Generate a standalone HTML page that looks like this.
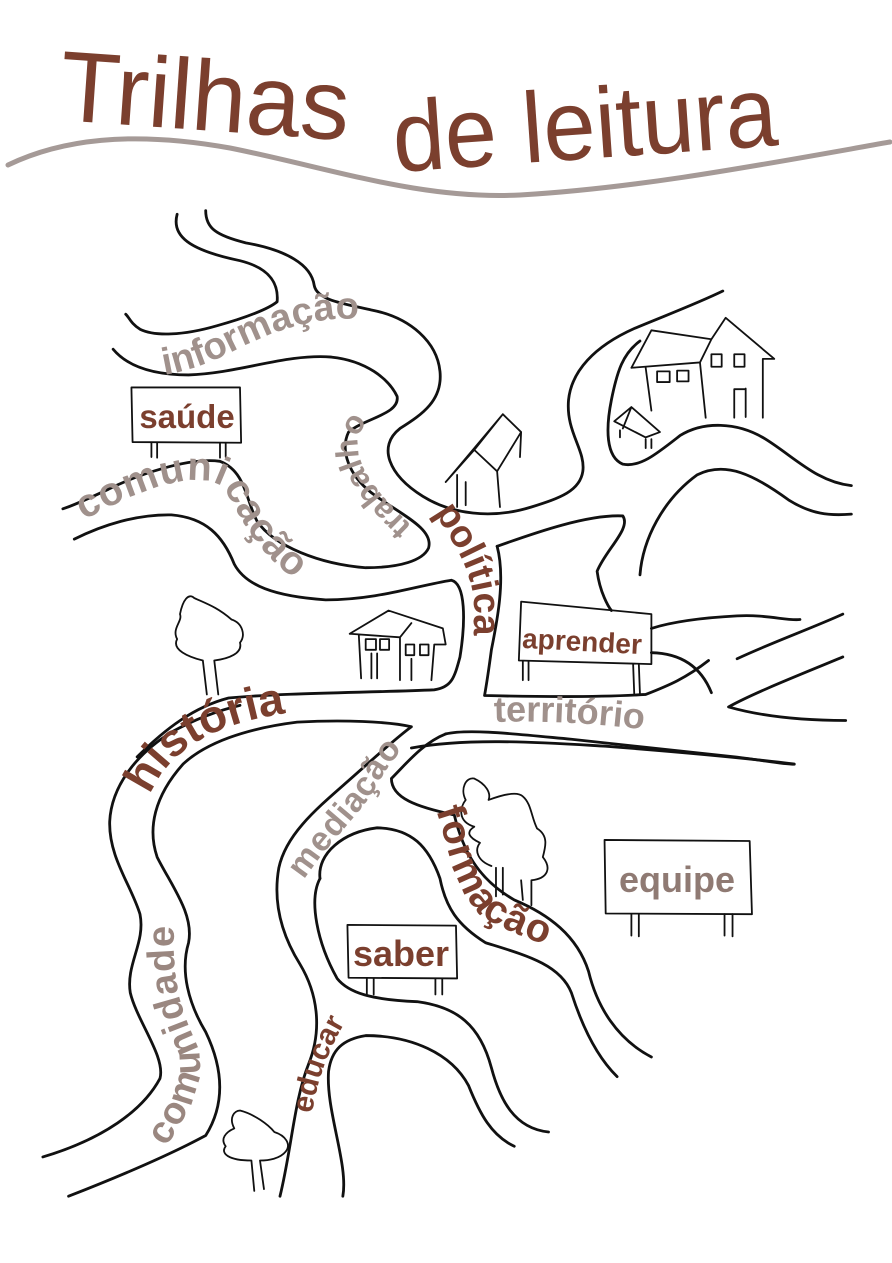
<!DOCTYPE html>
<html><head><meta charset="utf-8"><style>
html,body{margin:0;padding:0;background:#fff;width:892px;height:1263px;overflow:hidden}
svg{display:block}
.l{fill:none;stroke:#111;stroke-width:2.8;stroke-linecap:round;stroke-linejoin:round;vector-effect:non-scaling-stroke}
.t{fill:none;stroke:#111;stroke-width:1.8;stroke-linecap:round;stroke-linejoin:round;vector-effect:non-scaling-stroke}
.g{font-family:"Liberation Sans",sans-serif;font-weight:bold;fill:#a0918c}
.b{font-family:"Liberation Sans",sans-serif;font-weight:bold;fill:#7b3f2e}
</style></head><body>
<svg width="892" height="1263" viewBox="0 0 892 1263" xmlns="http://www.w3.org/2000/svg">
<path d="M8,165 C60,140 130,130 230,148 C330,168 420,200 520,195 C640,188 760,165 890,142" fill="none" stroke="#a59a97" stroke-width="5" stroke-linecap="round"/>
<text x="58" y="120" font-family="Liberation Sans,sans-serif" font-size="100" fill="#7b3f2e" textLength="290" lengthAdjust="spacingAndGlyphs" transform="rotate(4 58 120)">Trilhas</text>
<text x="395" y="172" font-family="Liberation Sans,sans-serif" font-size="100" fill="#7b3f2e" textLength="385" lengthAdjust="spacingAndGlyphs" transform="rotate(-4 395 172)">de leitura</text>

<defs>
<path id="pInfo" d="M164,375 C217,366 240,343 286,329 C320,318 349,316 390,322"/>
<path id="pTrab" d="M412,526 C385,500 355,470 358,440 C362,418 385,408 410,396"/>
<path id="pCom" d="M84,520 C130,495 190,468 222,486 C240,510 252,562 330,600"/>
<path id="pPol" d="M434,512 C455,545 472,570 474,605 L474,700"/>
<path id="pHist" d="M150,795 C170,748 220,710 360,708"/>
<path id="pTerr" d="M494,722 C560,720 620,725 700,737"/>
<path id="pMed" d="M304,880 C330,840 365,810 380,780 C395,755 410,740 428,722"/>
<path id="pForm" d="M436,810 C450,850 450,880 480,915 C510,935 550,945 600,966"/>
<path id="pEdu" d="M312,1114 C318,1075 330,1045 356,1004"/>
<path id="pComu" d="M166,1147 C190,1110 207,1080 197,1045 C182,1010 166,980 178,880"/>
</defs>

<g transform="translate(0,200) scale(0.5714,0.357)">
<path class="l" d="M310,40 C300,100 330,140 420,170 C470,190 488,230 485,285 C470,305 430,330 380,352 C320,380 270,382 245,362 C228,345 226,328 220,320"/>
<path class="l" d="M360,30 C360,80 380,100 430,120 C500,140 545,180 550,240 C555,280 600,290 650,308 C720,330 765,400 770,480 C775,560 740,600 700,640 C660,690 680,770 740,830 C790,880 860,895 930,860 C980,835 1015,815 1020,760 C1025,700 990,650 995,560 C1000,480 1040,410 1110,360 C1170,320 1220,290 1265,255"/>
<path class="l" d="M198,418 C220,460 260,490 330,490 C420,485 500,430 580,440 C640,450 680,500 695,550 C700,600 640,610 610,650 C595,700 610,770 650,820 C700,880 760,920 750,975 C740,1010 700,1030 640,1030 C560,1020 480,970 450,900 C430,840 430,760 385,732 C330,720 240,770 190,810 C150,840 120,860 110,865"/>
<path class="l" d="M130,950 C180,910 240,880 300,882 C360,890 390,940 410,1020 C430,1080 480,1110 570,1120 C660,1120 730,1080 790,1065 C815,1075 815,1180 805,1280 C795,1340 790,1365 760,1372 C650,1380 500,1380 400,1395 C340,1420 290,1480 240,1560"/>
<path class="l" d="M870,970 C940,930 1030,880 1090,885 C1105,920 1060,980 1045,1040 C1050,1100 1065,1140 1070,1150"/>
<path class="l" d="M870,970 C885,1060 870,1180 860,1260 C855,1320 850,1370 848,1388 C950,1392 1060,1392 1130,1385 C1170,1360 1200,1340 1240,1290"/>
<path class="l" d="M1120,1050 C1125,950 1160,840 1220,770 C1270,730 1320,770 1380,840 C1420,880 1450,885 1490,880"/>
<path class="l" d="M1490,800 C1430,790 1390,720 1340,670 C1290,620 1230,620 1190,660 C1150,710 1120,750 1090,740 C1060,720 1060,640 1070,560 C1080,480 1090,430 1120,395"/>
<path class="l" d="M1140,1200 C1180,1180 1230,1170 1290,1165 C1340,1160 1380,1180 1400,1175"/>
<path class="l" d="M1140,1268 C1200,1270 1230,1320 1245,1380"/>
<path class="l" d="M1290,1285 C1350,1240 1420,1200 1475,1160"/>
<path class="l" d="M1475,1280 C1400,1330 1320,1380 1275,1420 C1330,1445 1400,1458 1480,1458"/>
<path class="l" d="M720,1535 C820,1505 950,1520 1060,1530 C1180,1545 1290,1560 1390,1580"/>
<path class="t" d="M230,525 L420,525 L422,680 L232,678 Z"/>
<path class="t" d="M265,680 L265,720 M275,680 L275,722 M385,680 L385,722 M395,680 L395,720"/>
<path class="t" d="M912,1125 L1140,1160 L1140,1300 L908,1290 Z"/>
<path class="t" d="M915,1292 L915,1345 M925,1293 L925,1345 M1108,1300 L1110,1385 M1118,1300 L1120,1385"/>
<path class="t" d="M780,790 L880,600 L912,650 L870,760 L830,700 L780,790 M880,600 L830,700 M870,760 L875,860 M912,650 L910,720 M800,770 L800,860 M815,790 L815,855"/>
<path class="t" d="M1105,470 L1140,365 L1245,390 L1270,330 L1355,445 L1335,445 L1335,610 M1245,390 L1225,455 L1105,470 M1225,455 L1235,610 M1130,470 L1140,590 M1150,480 h22 v30 h-22z M1185,478 h20 v30 h-20z M1245,432 h18 v35 h-18z M1285,432 h18 v35 h-18z M1285,530 v80 M1305,528 v80 M1285,530 h20"/>
<path class="t" d="M1075,620 L1105,580 L1155,650 L1130,665 Z M1105,580 L1090,640 M1130,670 v25 M1140,670 v25 M1085,645 v20"/>
<path class="t" d="M612,1215 L680,1150 L775,1200 L780,1245 L760,1245 L755,1345 M612,1215 L700,1225 L700,1345 M700,1225 L720,1185 M628,1220 L632,1340 M640,1230 h18 v30 h-18z M665,1230 h16 v30 h-16z M710,1245 h15 v30 h-15z M735,1245 h15 v30 h-15z M650,1270 v70 M660,1270 v70 M720,1285 v60"/>
<path class="t" d="M355,1290 C330,1280 300,1260 310,1230 C300,1200 320,1180 315,1160 C320,1120 330,1100 340,1115 C360,1130 380,1140 405,1175 C425,1185 430,1220 420,1240 C425,1270 400,1285 375,1290 M355,1290 L362,1385 M375,1290 L382,1385"/>
</g>

<g transform="translate(0,700) scale(0.5714,0.357)">
<path class="l" d="M75,1280 C180,1230 250,1150 280,1060 C290,1000 240,900 228,820 C220,740 255,680 245,600 C230,520 190,440 192,340 C195,240 240,150 300,90 C340,55 380,30 420,15"/>
<path class="l" d="M120,1390 C200,1340 290,1280 360,1220 C395,1130 390,1030 360,930 C330,850 315,760 330,680 C340,600 300,520 275,440 C258,360 270,270 320,180 C360,120 430,80 520,62 C600,55 680,60 720,75 C690,110 650,170 600,240 C550,310 500,380 488,470 C478,560 490,650 525,740 C555,820 565,920 540,1020 C515,1120 510,1260 490,1390"/>
<path class="l" d="M780,95 C740,120 710,180 685,220 C685,275 730,300 795,322 C810,420 835,500 900,560 C960,600 1010,660 1030,760 C1045,860 1080,950 1140,1000"/>
<path class="l" d="M780,95 C820,80 900,95 1000,110 C1100,128 1200,145 1290,160 C1340,170 1370,180 1390,180"/>
<path class="l" d="M560,500 C555,430 600,370 660,358 C720,360 750,410 770,500 C780,580 800,630 850,680 C920,715 980,740 1000,820 C1020,920 1045,1000 1080,1055"/>
<path class="l" d="M560,500 C540,560 555,680 590,780 C610,820 650,840 730,845 C800,860 840,910 860,1030 C875,1120 900,1200 960,1210"/>
<path class="l" d="M600,1390 C610,1300 570,1150 575,1040 C580,980 600,950 640,940 C720,940 790,990 820,1080 C840,1160 860,1220 900,1250"/>
<path class="t" d="M608,630 L798,632 L800,780 L610,778 Z"/>
<path class="t" d="M642,780 V825 M654,780 V825 M762,780 V825 M774,780 V825"/>
<path class="t" d="M1058,392 L1312,395 L1316,600 L1060,598 Z"/>
<path class="t" d="M1105,600 V660 M1118,600 V662 M1268,600 V660 M1282,600 V662"/>
<path class="t" d="M830,355 C800,340 805,300 815,280 C805,250 815,215 830,220 C850,235 860,260 855,280 C880,265 905,255 915,270 C930,290 930,330 940,360 C960,380 955,410 950,440 C965,470 960,500 930,505 L930,575 M912,505 L915,560 M880,470 L880,545 M868,470 L868,550 M860,465 C835,450 830,420 840,400 C820,385 815,370 830,355"/>
<path class="t" d="M440,1290 C400,1290 385,1270 395,1250 C385,1230 395,1210 410,1200 C400,1170 410,1150 420,1150 C445,1160 470,1190 480,1210 C500,1220 510,1245 500,1265 C490,1285 470,1290 455,1290 M440,1290 L445,1375 M455,1290 L462,1370"/>
</g>

<text class="g" font-size="38"><textPath href="#pInfo">informação</textPath></text>
<text class="b" font-size="33" x="187" y="428" text-anchor="middle">saúde</text>
<text class="g" font-size="32"><textPath href="#pTrab">trabalho</textPath></text>
<text class="g" font-size="40" letter-spacing="1"><textPath href="#pCom">comunicação</textPath></text>
<text class="b" font-size="38"><textPath href="#pPol">política</textPath></text>
<text class="b" font-size="28" x="582" y="651" text-anchor="middle" transform="rotate(3 582 642)">aprender</text>
<text class="b" font-size="46"><textPath href="#pHist">história</textPath></text>
<text class="g" font-size="36"><textPath href="#pTerr">território</textPath></text>
<text class="g" font-size="34" letter-spacing="1"><textPath href="#pMed">mediação</textPath></text>
<text class="b" font-size="40" letter-spacing="1"><textPath href="#pForm">formação</textPath></text>
<text class="b" font-size="36" x="401" y="966" text-anchor="middle">saber</text>
<text class="g" font-size="36" x="677" y="892" text-anchor="middle" style="fill:#8f7a73">equipe</text>
<text class="b" font-size="30"><textPath href="#pEdu">educar</textPath></text>
<text class="g" font-size="38" letter-spacing="1" style="fill:#9a8780"><textPath href="#pComu">comunidade</textPath></text>
</svg>
</body></html>
